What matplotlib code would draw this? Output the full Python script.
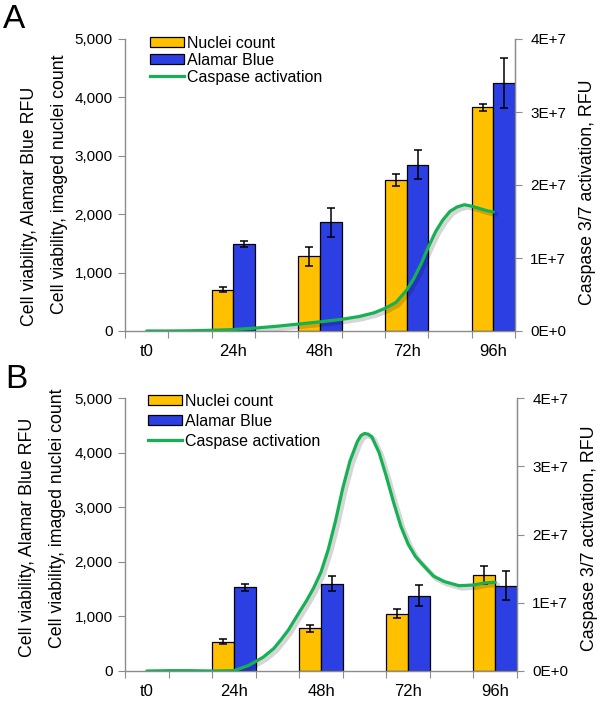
import numpy as np
import matplotlib
matplotlib.use("Agg")
import matplotlib.pyplot as plt
from matplotlib.patches import Patch
from matplotlib.lines import Line2D
import matplotlib.patheffects as pe

plt.rcParams['font.family'] = ['Liberation Sans', 'DejaVu Sans']

# ---------------- data ----------------
categories = ['t0', '24h', '48h', '72h', '96h']
bar_hours = [24, 48, 72, 96]

nuclei_A = [710, 1280, 2580, 3830]
nuclei_A_err = [40, 160, 100, 57]
alamar_A = [1490, 1860, 2850, 4240]
alamar_A_err = [45, 250, 255, 430]

nuclei_B = [540, 780, 1050, 1760]
nuclei_B_err = [45, 65, 88, 158]
alamar_B = [1530, 1600, 1380, 1560]
alamar_B_err = [70, 143, 198, 267]

casp_hours_A = [0, 6, 12, 18, 24, 30, 36, 42, 48, 54, 59, 63, 66, 69, 72, 74, 76, 78,
                80, 82, 84, 86, 88, 90, 92, 94, 96]
casp_A = [0, 0, 0.003, 0.01, 0.02, 0.04, 0.065, 0.095, 0.125, 0.16, 0.20, 0.25, 0.31,
          0.39, 0.56, 0.72, 0.92, 1.15, 1.36, 1.52, 1.64, 1.70, 1.73, 1.71, 1.68,
          1.65, 1.63]  # x 1e7

casp_hours_B = [0, 6, 12, 18, 24, 28, 32, 35, 37, 39, 42, 44, 46, 48, 50, 52, 54, 56,
                58, 59, 60, 61, 62, 64, 66, 68, 70, 72, 74, 76, 79, 82, 86, 90, 93, 96]
casp_B = [0, 0.005, 0.005, 0, 0.005, 0.08, 0.2, 0.33, 0.46, 0.6, 0.86, 1.03, 1.22, 1.45,
          1.78, 2.2, 2.68, 3.08, 3.36, 3.45, 3.48, 3.47, 3.43, 3.2, 2.85, 2.47, 2.12,
          1.86, 1.68, 1.56, 1.39, 1.31, 1.25, 1.26, 1.29, 1.30]  # x 1e7

left_ticks = [0, 1000, 2000, 3000, 4000, 5000]
left_ticklabels = ['0', '1,000', '2,000', '3,000', '4,000', '5,000']
right_ticks = [0, 1e7, 2e7, 3e7, 4e7]
right_ticklabels = ['0E+0', '1E+7', '2E+7', '3E+7', '4E+7']

legend_labels = ['Nuclei count', 'Alamar Blue', 'Caspase activation']
left_label_1 = 'Cell viability, Alamar Blue RFU'
left_label_2 = 'Cell viability, imaged nuclei count'
right_label = 'Caspase 3/7 activation, RFU'

YELLOW = '#FFC000'
BLUE = '#2B3FE3'
GREEN = '#17B155'
SPINE = '#8C8C8C'

W, H = 604, 704
fig = plt.figure(figsize=(W / 100, H / 100), dpi=100)


def fx(px):
    return px / W


def fy(py):
    return 1 - py / H


def panel(left, right, top, bottom, nuc, nuc_err, ala, ala_err, ch, cv,
          letter, letter_xy, lab1_xy, lab2_xy, rlab_xy, leg_xy, leg_space, leg_fs):
    ax = fig.add_axes([fx(left), fy(bottom), fx(right) - fx(left), fy(top) - fy(bottom)])
    xb = np.array(bar_hours) / 24.0
    ax.bar(xb - 0.125, nuc, width=0.25, color=YELLOW, edgecolor='black', linewidth=0.9, zorder=2)
    ax.bar(xb + 0.125, ala, width=0.25, color=BLUE, edgecolor='black', linewidth=0.9, zorder=2)
    ax.errorbar(xb - 0.125, nuc, yerr=nuc_err, fmt='none', ecolor='black',
                elinewidth=1.1, capsize=3, capthick=1.1, zorder=3)
    ax.errorbar(xb + 0.125, ala, yerr=ala_err, fmt='none', ecolor='black',
                elinewidth=1.1, capsize=3, capthick=1.1, zorder=3)
    ax.set_xlim(-0.25, 4.25)
    ax.set_ylim(0, 5000)
    ax.set_yticks(left_ticks)
    ax.set_yticklabels(left_ticklabels, fontsize=11)
    ax.set_xticks(np.arange(-0.25, 4.26, 0.5))
    ax.set_xticklabels([])
    ax.set_xticks(np.arange(len(categories)), minor=True)
    ax.set_xticklabels(categories, minor=True, fontsize=12)
    ax.tick_params(axis='x', which='minor', length=0, pad=9)
    ax.tick_params(axis='x', which='major', length=5, color=SPINE, direction='out')
    ax.tick_params(axis='y', length=5, color=SPINE, direction='out', pad=4)
    ax.spines['top'].set_visible(False)
    for s in ['left', 'bottom', 'right']:
        ax.spines[s].set_color(SPINE)
        ax.spines[s].set_linewidth(1.0)

    ax2 = ax.twinx()
    ax2.set_ylim(0, 4e7)
    ax2.set_yticks(right_ticks)
    ax2.set_yticklabels(right_ticklabels, fontsize=11)
    ax2.tick_params(axis='y', length=5, color=SPINE, direction='out', pad=6)
    for s in ['top', 'left', 'bottom']:
        ax2.spines[s].set_visible(False)
    ax2.spines['right'].set_color(SPINE)
    ax2.plot(np.array(ch) / 24.0, np.array(cv) * 1e7, color=GREEN, linewidth=2.3,
             solid_capstyle='round', solid_joinstyle='round', zorder=4,
             path_effects=[pe.SimpleLineShadow(offset=(1.8, -1.8), shadow_color='black',
                                               alpha=0.16, linewidth=3.5),
                           pe.Normal()])

    fig.text(fx(letter_xy[0]), fy(letter_xy[1]), letter, fontsize=24, ha='left', va='top')
    fig.text(fx(lab1_xy[0]), fy(lab1_xy[1]), left_label_1, rotation=90, fontsize=12.8,
             ha='center', va='center')
    fig.text(fx(lab2_xy[0]), fy(lab2_xy[1]), left_label_2, rotation=90, fontsize=12.8,
             ha='center', va='center')
    fig.text(fx(rlab_xy[0]), fy(rlab_xy[1]), right_label, rotation=90, fontsize=12.8,
             ha='center', va='center')

    handles = [Patch(facecolor=YELLOW, edgecolor='black', linewidth=0.9),
               Patch(facecolor=BLUE, edgecolor='black', linewidth=0.9),
               Line2D([], [], color=GREEN, linewidth=2.3)]
    fig.legend(handles, legend_labels, loc='upper left',
               bbox_to_anchor=(fx(leg_xy[0]), fy(leg_xy[1])), frameon=False,
               fontsize=leg_fs, handlelength=2.1, handleheight=0.6, handletextpad=0.2,
               labelspacing=leg_space, borderaxespad=0, borderpad=0)
    return ax


panel(125, 515, 39, 331, nuclei_A, nuclei_A_err, alamar_A, alamar_A_err,
      casp_hours_A, casp_A, 'A', (3, 4), (30, 206), (60, 184), (588, 192), (150, 36), 0.12, 11.5)
panel(125, 517, 398, 671, nuclei_B, nuclei_B_err, alamar_B, alamar_B_err,
      casp_hours_B, casp_B, 'B', (5, 364), (28, 537), (57, 518), (590, 538), (148, 394), 0.3, 11.5)

fig.savefig('out.png', dpi=100)
